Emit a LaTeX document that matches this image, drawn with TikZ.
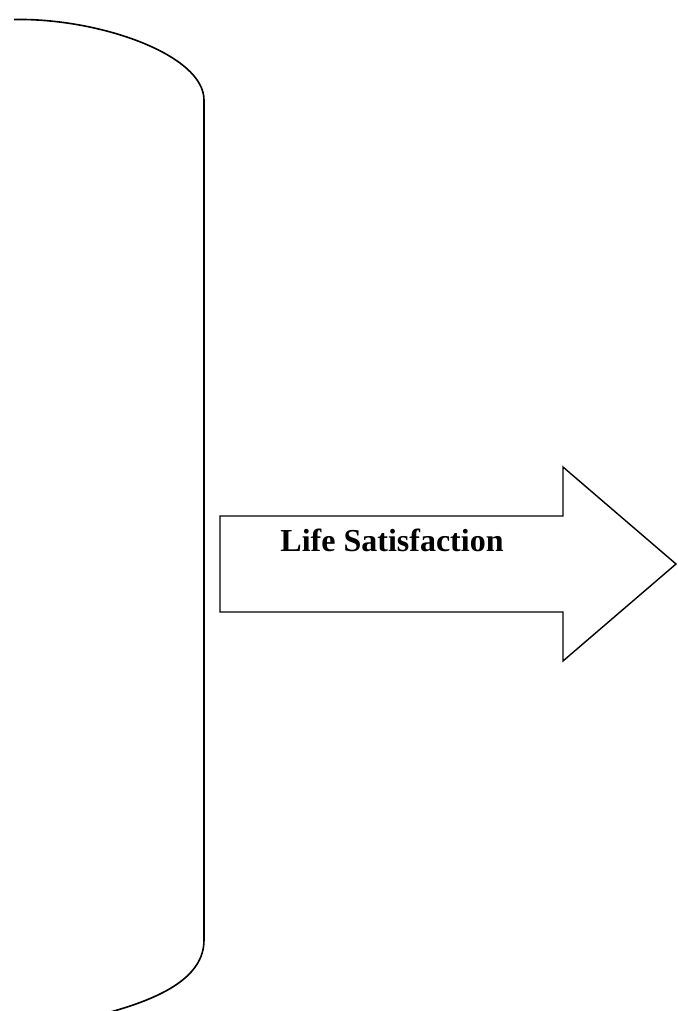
\documentclass[tikz,border=0pt]{standalone}
\usepackage{fontspec}
\setmainfont{Liberation Serif}
\begin{document}
\begin{tikzpicture}[x=1pt,y=-1pt,
  outline/.style={draw=black,line width=1.6pt,line join=round},
  arrowshape/.style={draw=black,line width=1.4pt,line join=miter},
  label/.style={font=\fontsize{32}{38}\selectfont\bfseries,inner sep=0pt}]
\useasboundingbox (0,0) rectangle (677,1011);
% bracket
\draw[outline] (14,19.5) .. controls (100,18) and (204,55) .. (204,100)
  -- (204,940) .. controls (204,978) and (160,1000) .. (95,1016);
% arrow
\draw[arrowshape] (220,516) -- (563,516) -- (563,467) -- (676,564)
  -- (563,661) -- (563,612) -- (220,612) -- cycle;
\node[label] (ls) at (392,540) {Life Satisfaction};
\end{tikzpicture}
\end{document}
